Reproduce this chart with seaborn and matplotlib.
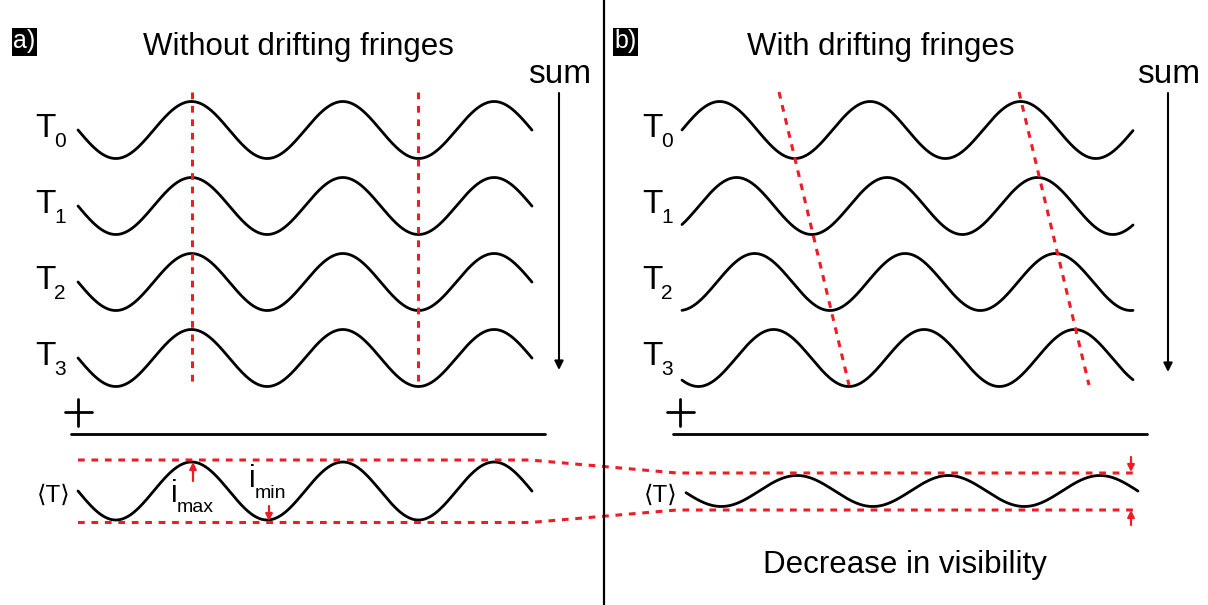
import numpy as np
import pandas as pd
import matplotlib
matplotlib.use("Agg")
import matplotlib.pyplot as plt
import seaborn as sns
from matplotlib.patches import Rectangle

# ---------------- data (schematic, pixel-like coordinates) ----------------
panel_titles = ["Without drifting fringes", "With drifting fringes"]
panel_tags = ["a)", "b)"]
frame_subscripts = ["0", "1", "2", "3"]
frame_centers = [130, 206, 282, 358]          # vertical centre of each frame T_k
frame_amplitude = 28.5
period_a = 151.3
period_b = 150.5
peaks_a = [191.5, 191.5, 191.5, 191.5]        # no drift: same phase for all frames
peaks_b = [719.6, 736.6, 754.6, 773.6]        # drifting fringes: phase moves per frame
x_range_a = [78, 532]
x_range_b = [682, 1133]

mean_center = 491
mean_amplitudes = [29.0, 15.5]                # <T> visibility: high (a), low (b)
mean_peaks = [191.5, 797.0]
mean_periods = [151.3, 151.5]
mean_x_ranges = [[78, 532], [686, 1138]]

RED = "#ee1c24"


def wave(x0, x1, center, amp, peak, period, n=500):
    x = np.linspace(x0, x1, n)
    y = center - amp * np.cos(2 * np.pi * (x - peak) / period)
    return pd.DataFrame({"x": x, "y": y})


sns.set_theme(style="white")
plt.rcParams["font.family"] = ["Liberation Sans", "DejaVu Sans"]
plt.rcParams["text.color"] = "black"

fig = plt.figure(figsize=(12.08, 6.05), dpi=100)
ax = fig.add_axes([0, 0, 1, 1])
ax.set_xlim(0, 1208)
ax.set_ylim(605, 0)
ax.axis("off")

dash = (0, (2.2, 2.2))
lw_wave = 2.0

# ---------------- frame waves ----------------
for k, c in enumerate(frame_centers):
    da = wave(x_range_a[0], x_range_a[1], c, frame_amplitude, peaks_a[k], period_a)
    sns.lineplot(data=da, x="x", y="y", ax=ax, color="black", linewidth=lw_wave,
                 estimator=None, sort=False)
    db = wave(x_range_b[0], x_range_b[1], c, frame_amplitude, peaks_b[k], period_b)
    sns.lineplot(data=db, x="x", y="y", ax=ax, color="black", linewidth=lw_wave,
                 estimator=None, sort=False)
    # labels T_k
    ax.text(35, c + 7, "T", fontsize=24, ha="left", va="baseline", color="black")
    ax.text(54, c + 17, frame_subscripts[k], fontsize=15, ha="left", va="baseline", color="black")
    ax.text(642, c + 7, "T", fontsize=24, ha="left", va="baseline", color="black")
    ax.text(661, c + 17, frame_subscripts[k], fontsize=15, ha="left", va="baseline", color="black")

# ---------------- mean waves ----------------
for i in range(2):
    dm = wave(mean_x_ranges[i][0], mean_x_ranges[i][1], mean_center,
              mean_amplitudes[i], mean_peaks[i], mean_periods[i])
    sns.lineplot(data=dm, x="x", y="y", ax=ax, color="black", linewidth=lw_wave,
                 estimator=None, sort=False)

ax.text(54, 502, "\u27e8T\u27e9", fontsize=17.5, ha="center", va="baseline", color="black")
ax.text(661, 502, "\u27e8T\u27e9", fontsize=17.5, ha="center", va="baseline", color="black")

# ---------------- red dashed guides ----------------
# panel a: vertical fringe lines
for xv in [peaks_a[0], peaks_a[0] + 1.5 * period_a]:
    ax.plot([xv, xv], [92, 385], color=RED, lw=2.2, linestyle=dash)
# panel b: slanted fringe lines
ax.plot([779, 849], [92, 385], color=RED, lw=2.2, linestyle=dash)
ax.plot([1019, 1089], [92, 385], color=RED, lw=2.2, linestyle=dash)
# envelopes
ax.plot([78, 530, 677, 1137], [460, 460, 473, 473], color=RED, lw=2.2, linestyle=dash)
ax.plot([78, 530, 677, 1137], [522.5, 522.5, 510, 510], color=RED, lw=2.2, linestyle=dash)

# red arrows
arr = dict(arrowstyle="-|>", color=RED, lw=1.6, mutation_scale=10, shrinkA=0, shrinkB=0)
ax.annotate("", xy=(193, 462), xytext=(193, 481), arrowprops=arr)
ax.annotate("", xy=(269, 521), xytext=(269, 506), arrowprops=arr)
ax.annotate("", xy=(1131, 472), xytext=(1131, 457), arrowprops=arr)
ax.annotate("", xy=(1131, 510), xytext=(1131, 525), arrowprops=arr)

# i_max / i_min
ax.text(171, 502, "i", fontsize=22, ha="left", va="baseline", color="black")
ax.text(177, 512, "max", fontsize=14, ha="left", va="baseline", color="black")
ax.text(249, 487, "i", fontsize=22, ha="left", va="baseline", color="black")
ax.text(255, 498, "min", fontsize=14, ha="left", va="baseline", color="black")

# ---------------- sum arrows ----------------
sarr = dict(arrowstyle="-|>", color="black", lw=1.5, mutation_scale=13, shrinkA=0, shrinkB=0)
ax.annotate("", xy=(559, 370), xytext=(559, 93), arrowprops=sarr)
ax.annotate("", xy=(1168, 372), xytext=(1168, 93), arrowprops=sarr)
ax.text(560, 83, "sum", fontsize=24, ha="center", va="baseline", color="black")
ax.text(1169, 83, "sum", fontsize=24, ha="center", va="baseline", color="black")

# ---------------- plus signs and sum bars ----------------
for xc, (l0, l1) in [(78, (71, 545)), (680, (673, 1147))]:
    ax.plot([xc - 13.5, xc + 13.5], [412, 412], color="black", lw=2.0)
    ax.plot([xc, xc], [398.5, 425.5], color="black", lw=2.0)
    ax.plot([l0, l1], [434, 434], color="black", lw=2.0)

# ---------------- titles, tags, divider ----------------
ax.text(298, 55, panel_titles[0], fontsize=22.5, ha="center", va="baseline", color="black")
ax.text(881, 55, panel_titles[1], fontsize=22.5, ha="center", va="baseline", color="black")
for (x0, tag) in [(12, panel_tags[0]), (613, panel_tags[1])]:
    ax.add_patch(Rectangle((x0, 28), 25, 28, facecolor="black", edgecolor="none"))
    ax.text(x0 + 12.5, 48, tag, color="white", fontsize=18, ha="center", va="baseline")

ax.plot([604, 604], [0, 605], color="black", lw=1.6)

ax.text(905, 573, "Decrease in visibility", fontsize=22.5, ha="center", va="baseline",
        color="black")

fig.savefig("out.png", dpi=100)
